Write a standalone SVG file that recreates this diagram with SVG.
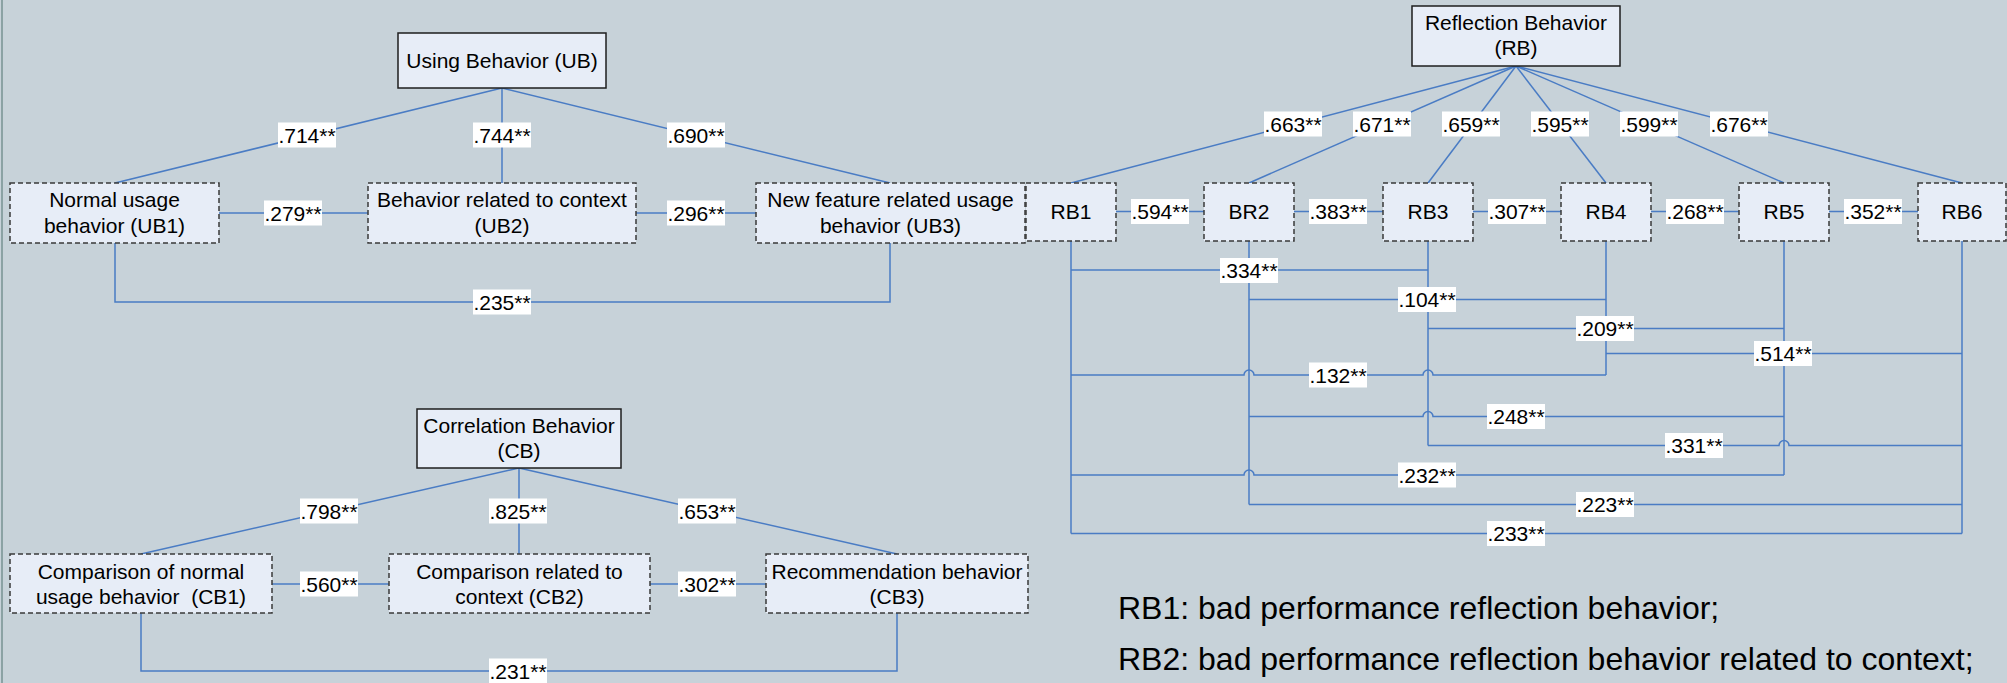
<svg xmlns="http://www.w3.org/2000/svg" width="2007" height="683" viewBox="0 0 2007 683">
  <style>
    .bg { fill: #c7d2d9; }
    .main { fill: #e7edf7; stroke: #1e1e1e; stroke-width: 1.5; }
    .sub { fill: #e7edf7; stroke: #3a3a3a; stroke-width: 1.5; stroke-dasharray: 5 3; }
    .conn { fill: none; stroke: #4a7cc4; stroke-width: 1.5; }
    .lbl rect { fill: #ffffff; }
    .lbl text { font-family: "Liberation Sans", Arial, sans-serif; font-size: 21px; fill: #000; text-anchor: middle; }
    .nt { font-family: "Liberation Sans", Arial, sans-serif; font-size: 21px; fill: #000; text-anchor: middle; }
    .legend { font-family: "Liberation Sans", Arial, sans-serif; font-size: 32px; fill: #000; }
  </style>

  <rect class="bg" x="0" y="0" width="2007" height="683"/>
  <rect x="1" y="0" width="2" height="683" fill="#8ba2a4"/>

  <!-- connectors -->
  <g id="connectors">
    <!-- Using Behavior -->
    <path class="conn" d="M502 88 L115 183"/>
    <path class="conn" d="M502 88 V183"/>
    <path class="conn" d="M502 88 L890 183"/>
    <path class="conn" d="M219 213 H368"/>
    <path class="conn" d="M636 213 H756"/>
    <path class="conn" d="M115 243 V302 H890 V243"/>

    <!-- Reflection Behavior -->
    <path class="conn" d="M1516 66 L1071 183"/>
    <path class="conn" d="M1516 66 L1249 183"/>
    <path class="conn" d="M1516 66 L1428 183"/>
    <path class="conn" d="M1516 66 L1606 183"/>
    <path class="conn" d="M1516 66 L1784 183"/>
    <path class="conn" d="M1516 66 L1962 183"/>
    <path class="conn" d="M1116 211.5 H1204"/>
    <path class="conn" d="M1294 211.5 H1383"/>
    <path class="conn" d="M1473 211.5 H1561"/>
    <path class="conn" d="M1651 211.5 H1739"/>
    <path class="conn" d="M1829 211.5 H1918"/>
    <path class="conn" d="M1071 241 V533.5"/>
    <path class="conn" d="M1249 241 V504.5"/>
    <path class="conn" d="M1428 241 V445.5"/>
    <path class="conn" d="M1606 241 V375"/>
    <path class="conn" d="M1784 241 V475"/>
    <path class="conn" d="M1962 241 V533.5"/>
    <path class="conn" d="M1071 270 H1428"/>
    <path class="conn" d="M1249 299.5 H1606"/>
    <path class="conn" d="M1428 328.5 H1784"/>
    <path class="conn" d="M1606 353.5 H1962"/>
    <path class="conn" d="M1071 375 H1244 A5 5 0 0 1 1254 375 H1423 A5 5 0 0 1 1433 375 H1606"/>
    <path class="conn" d="M1249 416.5 H1423 A5 5 0 0 1 1433 416.5 H1784"/>
    <path class="conn" d="M1428 445.5 H1779 A5 5 0 0 1 1789 445.5 H1962"/>
    <path class="conn" d="M1071 475 H1244 A5 5 0 0 1 1254 475 H1784"/>
    <path class="conn" d="M1249 504.5 H1962"/>
    <path class="conn" d="M1071 533.5 H1962"/>

    <!-- Correlation Behavior -->
    <path class="conn" d="M519 468 L141 554"/>
    <path class="conn" d="M519 468 V554"/>
    <path class="conn" d="M519 468 L897 554"/>
    <path class="conn" d="M272 584 H389"/>
    <path class="conn" d="M650 584 H766"/>
    <path class="conn" d="M141 613 V671 H897 V613"/>
  </g>

  <!-- coefficient labels -->
  <g id="labels">
    <g class="lbl"><rect x="278" y="122.5" width="58" height="25"/><text x="307" y="142.5">.714**</text></g>
    <g class="lbl"><rect x="473" y="122.5" width="58" height="25"/><text x="502" y="142.5">.744**</text></g>
    <g class="lbl"><rect x="667" y="122.5" width="58" height="25"/><text x="696" y="142.5">.690**</text></g>
    <g class="lbl"><rect x="264" y="200.5" width="58" height="25"/><text x="293" y="220.5">.279**</text></g>
    <g class="lbl"><rect x="667" y="200.5" width="58" height="25"/><text x="696" y="220.5">.296**</text></g>
    <g class="lbl"><rect x="473" y="289.5" width="58" height="25"/><text x="502" y="309.5">.235**</text></g>

    <g class="lbl"><rect x="1264" y="111.5" width="58" height="25"/><text x="1293" y="131.5">.663**</text></g>
    <g class="lbl"><rect x="1353" y="111.5" width="58" height="25"/><text x="1382" y="131.5">.671**</text></g>
    <g class="lbl"><rect x="1442" y="111.5" width="58" height="25"/><text x="1471" y="131.5">.659**</text></g>
    <g class="lbl"><rect x="1531" y="111.5" width="58" height="25"/><text x="1560" y="131.5">.595**</text></g>
    <g class="lbl"><rect x="1620" y="111.5" width="58" height="25"/><text x="1649" y="131.5">.599**</text></g>
    <g class="lbl"><rect x="1710" y="111.5" width="58" height="25"/><text x="1739" y="131.5">.676**</text></g>

    <g class="lbl"><rect x="1131" y="199" width="58" height="25"/><text x="1160" y="219">.594**</text></g>
    <g class="lbl"><rect x="1309" y="199" width="58" height="25"/><text x="1338" y="219">.383**</text></g>
    <g class="lbl"><rect x="1488" y="199" width="58" height="25"/><text x="1517" y="219">.307**</text></g>
    <g class="lbl"><rect x="1666" y="199" width="58" height="25"/><text x="1695" y="219">.268**</text></g>
    <g class="lbl"><rect x="1844" y="199" width="58" height="25"/><text x="1873" y="219">.352**</text></g>

    <g class="lbl"><rect x="1220" y="258" width="58" height="25"/><text x="1249" y="278">.334**</text></g>
    <g class="lbl"><rect x="1398" y="287" width="58" height="25"/><text x="1427" y="307">.104**</text></g>
    <g class="lbl"><rect x="1576" y="316" width="58" height="25"/><text x="1605" y="336">.209**</text></g>
    <g class="lbl"><rect x="1754" y="341" width="58" height="25"/><text x="1783" y="361">.514**</text></g>
    <g class="lbl"><rect x="1309" y="362.5" width="58" height="25"/><text x="1338" y="382.5">.132**</text></g>
    <g class="lbl"><rect x="1487" y="404" width="58" height="25"/><text x="1516" y="424">.248**</text></g>
    <g class="lbl"><rect x="1665" y="433" width="58" height="25"/><text x="1694" y="453">.331**</text></g>
    <g class="lbl"><rect x="1398" y="462.5" width="58" height="25"/><text x="1427" y="482.5">.232**</text></g>
    <g class="lbl"><rect x="1576" y="492" width="58" height="25"/><text x="1605" y="512">.223**</text></g>
    <g class="lbl"><rect x="1487" y="521" width="58" height="25"/><text x="1516" y="541">.233**</text></g>

    <g class="lbl"><rect x="300" y="498.5" width="58" height="25"/><text x="329" y="518.5">.798**</text></g>
    <g class="lbl"><rect x="489" y="498.5" width="58" height="25"/><text x="518" y="518.5">.825**</text></g>
    <g class="lbl"><rect x="678" y="498.5" width="58" height="25"/><text x="707" y="518.5">.653**</text></g>
    <g class="lbl"><rect x="300" y="571.5" width="58" height="25"/><text x="329" y="591.5">.560**</text></g>
    <g class="lbl"><rect x="678" y="571.5" width="58" height="25"/><text x="707" y="591.5">.302**</text></g>
    <g class="lbl"><rect x="489" y="658.5" width="58" height="25"/><text x="518" y="678.5">.231**</text></g>
  </g>

  <!-- Using Behavior -->
  <g id="UB">
    <rect class="main" x="398" y="33" width="208" height="55"/>
    <text class="nt" x="502" y="68">Using Behavior (UB)</text>
  </g>
  <g id="UB1">
    <rect class="sub" x="10" y="183" width="209" height="60"/>
    <text class="nt" x="114.5" y="207">Normal usage</text>
    <text class="nt" x="114.5" y="233">behavior (UB1)</text>
  </g>
  <g id="UB2">
    <rect class="sub" x="368" y="183" width="268" height="60"/>
    <text class="nt" x="502" y="207">Behavior related to context</text>
    <text class="nt" x="502" y="233">(UB2)</text>
  </g>
  <g id="UB3">
    <rect class="sub" x="756" y="183" width="269" height="60"/>
    <text class="nt" x="890.5" y="207">New feature related usage</text>
    <text class="nt" x="890.5" y="233">behavior (UB3)</text>
  </g>

  <!-- Reflection Behavior -->
  <g id="RB">
    <rect class="main" x="1412" y="6" width="208" height="60"/>
    <text class="nt" x="1516" y="30">Reflection Behavior</text>
    <text class="nt" x="1516" y="55">(RB)</text>
  </g>
  <g id="RB1">
    <rect class="sub" x="1026" y="183" width="90" height="58"/>
    <text class="nt" x="1071" y="219">RB1</text>
  </g>
  <g id="BR2">
    <rect class="sub" x="1204" y="183" width="90" height="58"/>
    <text class="nt" x="1249" y="219">BR2</text>
  </g>
  <g id="RB3">
    <rect class="sub" x="1383" y="183" width="90" height="58"/>
    <text class="nt" x="1428" y="219">RB3</text>
  </g>
  <g id="RB4">
    <rect class="sub" x="1561" y="183" width="90" height="58"/>
    <text class="nt" x="1606" y="219">RB4</text>
  </g>
  <g id="RB5">
    <rect class="sub" x="1739" y="183" width="90" height="58"/>
    <text class="nt" x="1784" y="219">RB5</text>
  </g>
  <g id="RB6">
    <rect class="sub" x="1918" y="183" width="88" height="58"/>
    <text class="nt" x="1962" y="219">RB6</text>
  </g>

  <!-- Correlation Behavior -->
  <g id="CB">
    <rect class="main" x="417" y="409" width="204" height="59"/>
    <text class="nt" x="519" y="433">Correlation Behavior</text>
    <text class="nt" x="519" y="458">(CB)</text>
  </g>
  <g id="CB1">
    <rect class="sub" x="10" y="554" width="262" height="59"/>
    <text class="nt" x="141" y="578.5" xml:space="preserve">Comparison of normal</text>
    <text class="nt" x="141" y="603.5" xml:space="preserve">usage behavior  (CB1)</text>
  </g>
  <g id="CB2">
    <rect class="sub" x="389" y="554" width="261" height="59"/>
    <text class="nt" x="519.5" y="578.5">Comparison related to</text>
    <text class="nt" x="519.5" y="603.5">context (CB2)</text>
  </g>
  <g id="CB3">
    <rect class="sub" x="766" y="554" width="262" height="59"/>
    <text class="nt" x="897" y="578.5">Recommendation behavior</text>
    <text class="nt" x="897" y="603.5">(CB3)</text>
  </g>

  <!-- legend -->
  <g id="legend">
    <text class="legend" x="1118" y="619">RB1: bad performance reflection behavior;</text>
    <text class="legend" x="1118" y="670">RB2: bad performance reflection behavior related to context;</text>
  </g>
</svg>
